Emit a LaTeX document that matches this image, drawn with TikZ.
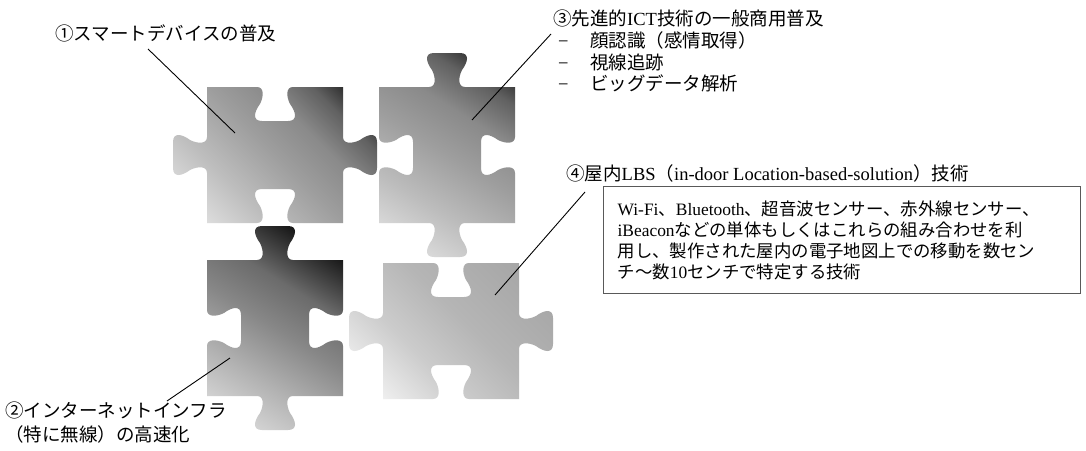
\documentclass[tikz,border=0pt]{standalone}
\usepackage{fontspec}
\setmainfont{Noto Sans CJK JP}
\newfontfamily\latfont{Liberation Serif}
\newcommand\textlat[1]{{\latfont #1}}
\usetikzlibrary{positioning}
\pgfdeclareverticalshading{piecegray}{100bp}{color(0bp)=(black!8); color(20bp)=(black!12); color(35bp)=(black!26); color(50bp)=(black!38); color(62bp)=(black!46); color(72bp)=(black!62); color(80bp)=(black!86); color(88bp)=(black!95); color(100bp)=(black)}
\pgfdeclareverticalshading{piecedark}{100bp}{color(0bp)=(black!10); color(20bp)=(black!14); color(35bp)=(black!30); color(50bp)=(black!47); color(62bp)=(black!58); color(70bp)=(black!76); color(78bp)=(black!94); color(100bp)=(black)}
\pgfdeclareverticalshading{piecelight}{100bp}{color(0bp)=(black!2); color(20bp)=(black!5); color(38bp)=(black!20); color(55bp)=(black!29); color(75bp)=(black!34); color(100bp)=(black!40)}
\tikzset{
  lbl/.style={anchor=base west,inner sep=0pt,font=\fontsize{18.5}{21.7}\selectfont},
  lead/.style={draw=black,line width=0.9pt},
  infobox/.style={draw=black!65,line width=1.3pt,anchor=north west,inner xsep=14pt,inner ysep=14pt,
    text width=449pt,align=left,font=\fontsize{17.4}{21}\selectfont},
  pics/piece lr/.style 2 args={code={
    \shade[shading=#1,shading angle=#2] (0,0) -- (50,0) .. controls (57,0) and (57,9) .. (53,17) .. controls (47,25) and (45,34) .. (55,34) -- (81,34) .. controls (91,34) and (89,25) .. (83,17) .. controls (79,9) and (79,0) .. (86,0) -- (136,0)
      -- (136,50) .. controls (136,57) and (145,57) .. (153,53) .. controls (161,47) and (170,45) .. (170,55) -- (170,81) .. controls (170,91) and (161,89) .. (153,83) .. controls (145,79) and (136,79) .. (136,86) -- (136,136)
      -- (86,136) .. controls (79,136) and (79,127) .. (83,119) .. controls (89,111) and (91,102) .. (81,102) -- (55,102) .. controls (45,102) and (47,111) .. (53,119) .. controls (57,127) and (57,136) .. (50,136) -- (0,136)
      -- (0,86) .. controls (0,79) and (-9,79) .. (-17,83) .. controls (-25,89) and (-34,91) .. (-34,81) -- (-34,55) .. controls (-34,45) and (-25,47) .. (-17,53) .. controls (-9,57) and (0,57) .. (0,50) -- cycle;
  }},
  pics/piece tb/.style 2 args={code={
    \shade[shading=#1,shading angle=#2] (0,0) -- (50,0) .. controls (57,0) and (57,-9) .. (53,-17) .. controls (47,-25) and (45,-34) .. (55,-34) -- (81,-34) .. controls (91,-34) and (89,-25) .. (83,-17) .. controls (79,-9) and (79,0) .. (86,0) -- (136,0)
      -- (136,50) .. controls (136,57) and (127,57) .. (119,53) .. controls (111,47) and (102,45) .. (102,55) -- (102,81) .. controls (102,91) and (111,89) .. (119,83) .. controls (127,79) and (136,79) .. (136,86) -- (136,136)
      -- (86,136) .. controls (79,136) and (79,145) .. (83,153) .. controls (89,161) and (91,170) .. (81,170) -- (55,170) .. controls (45,170) and (47,161) .. (53,153) .. controls (57,145) and (57,136) .. (50,136) -- (0,136)
      -- (0,86) .. controls (0,79) and (9,79) .. (17,83) .. controls (25,89) and (34,91) .. (34,81) -- (34,55) .. controls (34,45) and (25,47) .. (17,53) .. controls (9,57) and (0,57) .. (0,50) -- cycle;
  }},
}

\begin{document}
\begin{tikzpicture}[x=1pt,y=-1pt]
\fill[white] (0,0) rectangle (1086,450);
\useasboundingbox (0,0) rectangle (1086,450);

\pic at (207,87) {piece lr={piecegray}{-45}};
\pic at (379,87) {piece tb={piecegray}{-32}};
\pic at (207,260) {piece tb={piecedark}{-32}};
\pic at (383,263) {piece lr={piecelight}{-45}};

\node[lbl] (lab1) at (55,40) {①スマートデバイスの普及};
\node[lbl] (lab3) at (553,25) {③先進的\textlat{ICT}技術の一般商用普及};
\node[lbl] (item3a) at (558,47) {\makebox[32pt][l]{\textlat{−}}顔認識（感情取得）};
\node[lbl] (item3b) at (558,69) {\makebox[32pt][l]{\textlat{−}}視線追跡};
\node[lbl] (item3c) at (558,90) {\makebox[32pt][l]{\textlat{−}}ビッグデータ解析};
\node[lbl] (lab4) at (566,180) {④屋内\textlat{LBS}（\textlat{in-door Location-based-solution}）技術};
\node[lbl] (lab2a) at (5,417) {②インターネットインフラ};
\node[lbl] (lab2b) at (5,441) {（特に無線）の高速化};

\node[infobox] (box4) at (603,186) {\textlat{Wi-Fi}、\textlat{Bluetooth}、超音波センサー、赤外線センサー、\\
\textlat{iBeacon}などの単体もしくはこれらの組み合わせを利\\
用し、製作された屋内の電子地図上での移動を数セン\\
チ〜数\textlat{10}センチで特定する技術};

\coordinate (foot1) at (148,49);
\coordinate (tip1) at (235,133);
\coordinate (foot3) at (551,34);
\coordinate (tip3) at (472,120);
\coordinate (foot4) at (585,192);
\coordinate (tip4) at (495,295);
\coordinate (foot2) at (167,401);
\coordinate (tip2) at (230,358);
\draw[lead] (foot1) -- (tip1);
\draw[lead] (foot3) -- (tip3);
\draw[lead] (foot4) -- (tip4);
\draw[lead] (foot2) -- (tip2);
\end{tikzpicture}
\end{document}
